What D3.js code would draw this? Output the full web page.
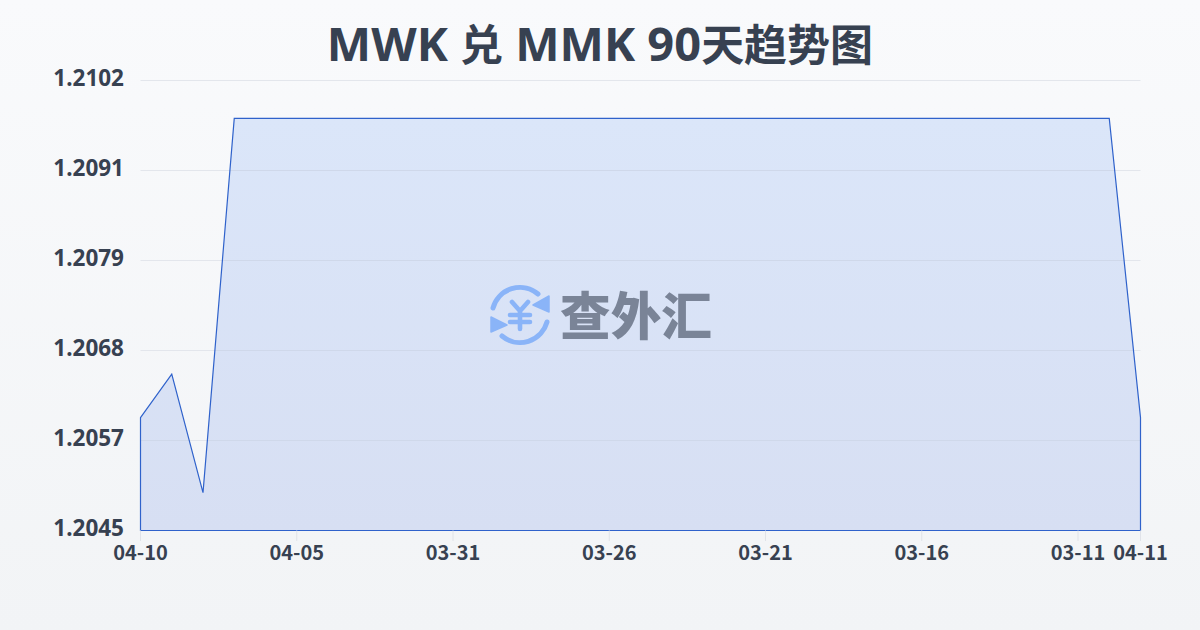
<!DOCTYPE html>
<html><head><meta charset="utf-8">
<script src="https://cdn.jsdelivr.net/npm/d3@7/dist/d3.min.js"></script>
<style>html,body{margin:0;padding:0;width:1200px;height:630px;overflow:hidden}svg{display:block}</style>
</head><body><svg id="c" width="1200" height="630"></svg>
<script>
const titleParts = [["MWK ","l"],["兑","c"],[" MMK 90","l"],["天趋势图","c"]];
const dates = ["04-10","04-09","04-08","04-07","04-06","04-05","04-04","04-03","04-02","04-01","03-31","03-30","03-29","03-28","03-27","03-26","03-25","03-24","03-23","03-22","03-21","03-20","03-19","03-18","03-17","03-16","03-15","03-14","03-13","03-12","03-11","03-10","04-11"];
const rates = [1.20593,1.20648,1.20498,1.20972,1.20972,1.20972,1.20972,1.20972,1.20972,1.20972,1.20972,1.20972,1.20972,1.20972,1.20972,1.20972,1.20972,1.20972,1.20972,1.20972,1.20972,1.20972,1.20972,1.20972,1.20972,1.20972,1.20972,1.20972,1.20972,1.20972,1.20972,1.20972,1.20593];
const xTickLabels = ["04-10","04-05","03-31","03-26","03-21","03-16","03-11","04-11"];
const yTicks = [1.2045,1.2057,1.2068,1.2079,1.2091,1.2102];
const yMin = 1.2045, yMax = 1.2102;

const svg = d3.select("#c");
const defs = svg.append("defs");
const bg = defs.append("linearGradient").attr("id","bg").attr("x1",0).attr("y1",0).attr("x2",0).attr("y2",1);
bg.append("stop").attr("offset",0).attr("stop-color","#f9fafc");
bg.append("stop").attr("offset",1).attr("stop-color","#f2f4f6");
const af = defs.append("linearGradient").attr("id","af").attr("x1",0).attr("y1",0).attr("x2",0).attr("y2",1);
af.append("stop").attr("offset",0).attr("stop-color","#dbe6f9");
af.append("stop").attr("offset",1).attr("stop-color","#d7dff3");
svg.append("rect").attr("width",1200).attr("height",630).attr("fill","url(#bg)");

const x = d3.scalePoint().domain(dates).range([140.5,1140.5]);
const y = d3.scaleLinear().domain([yMin,yMax]).range([530.5,80.5]);
const rowY = d3.scalePoint().domain(yTicks.map(String)).range([530.5,80.5]);
const ink = "#374151";

svg.append("g").selectAll("line").data(yTicks).join("line")
  .attr("x1",140.5).attr("x2",1140.5)
  .attr("y1",d=>rowY(String(d))).attr("y2",d=>rowY(String(d)))
  .attr("stroke","#e3e6ec").attr("stroke-width",1);

const area = d3.area().x(d=>x(d.date)).y0(y(yMin)).y1(d=>y(d.rate));
const pts = dates.map((d,i)=>({date:d,rate:rates[i]}));
svg.append("path").datum(pts).attr("d",d=>area(d)+"Z").attr("fill","url(#af)").attr("stroke","none");

defs.append("clipPath").attr("id","clipA").append("path").datum(pts).attr("d",area);
svg.append("g").attr("clip-path","url(#clipA)").selectAll("line").data(yTicks.slice(1,5)).join("line")
  .attr("x1",140.5).attr("x2",1140.5)
  .attr("y1",d=>rowY(String(d))).attr("y2",d=>rowY(String(d)))
  .attr("stroke","#cfd8ea").attr("stroke-width",1);

svg.append("path").datum(pts).attr("d",d=>area(d)+"Z").attr("fill","none").attr("stroke","#2f62cb").attr("stroke-width",1.2);

const xt = svg.append("g");
const tickDates = dates.filter(d=>xTickLabels.includes(d));
xt.selectAll("line").data(tickDates).join("line")
  .attr("x1",d=>x(d)).attr("x2",d=>x(d)).attr("y1",530.5).attr("y2",541)
  .attr("stroke","#e0e3e9");
xt.selectAll("text").data(tickDates).join("text")
  .attr("x",d=>x(d)).attr("y",560).attr("text-anchor","middle")
  .attr("font-family","'Noto Sans CJK SC',sans-serif").attr("font-weight",700).attr("font-size",20).attr("fill",ink)
  .text(d=>d);

svg.append("g").selectAll("text").data(yTicks).join("text")
  .attr("x",124).attr("y",d=>rowY(String(d))+5.5).attr("text-anchor","end")
  .attr("font-family","'Noto Sans',sans-serif").attr("font-weight",700).attr("font-size",22.5).attr("fill",ink)
  .text(d=>d3.format(".4f")(d));

svg.append("text").attr("x",600).attr("y",61).attr("text-anchor","middle").attr("font-weight",700).attr("fill",ink)
  .attr("xml:space","preserve").style("white-space","pre")
  .selectAll("tspan").data(titleParts).join("tspan")
  .attr("font-family",d=>d[1]==="l"?"'Noto Sans',sans-serif":"'Noto Sans CJK SC',sans-serif")
  .attr("font-size",d=>d[1]==="l"?47:43)
  .text(d=>d[0]);

const wm = svg.append("g").attr("transform","translate(520,315)");
const blue = "#8ab4f8";
wm.append("path").attr("d","M-27,-7 A28,28 0 0 1 18,-21").attr("fill","none").attr("stroke",blue).attr("stroke-width",5).attr("stroke-linecap","round");
wm.append("path").attr("d","M27,7 A28,28 0 0 1 -18,21").attr("fill","none").attr("stroke",blue).attr("stroke-width",5).attr("stroke-linecap","round");
wm.append("path").attr("d","M29,-19 L29,-3 L13,-10 Z").attr("fill",blue).attr("stroke",blue).attr("stroke-width",1.5).attr("stroke-linejoin","round");
wm.append("path").attr("d","M-29,2 L-29,17 L-13,10 Z").attr("fill",blue).attr("stroke",blue).attr("stroke-width",1.5).attr("stroke-linejoin","round");
wm.append("path").attr("d","M-8,-13 L0,-4 L8,-13 M-10,0 H10 M-10,7 H10 M0,-4 V14").attr("fill","none").attr("stroke",blue).attr("stroke-width",4.6).attr("stroke-linecap","round").attr("stroke-linejoin","round");
svg.append("text").attr("x",560).attr("y",335).attr("textLength",152).attr("lengthAdjust","spacingAndGlyphs")
  .attr("font-family","'Noto Sans CJK SC',sans-serif").attr("font-weight",900).attr("font-size",51).attr("fill","#7a8497")
  .text("查外汇");
</script></body></html>
